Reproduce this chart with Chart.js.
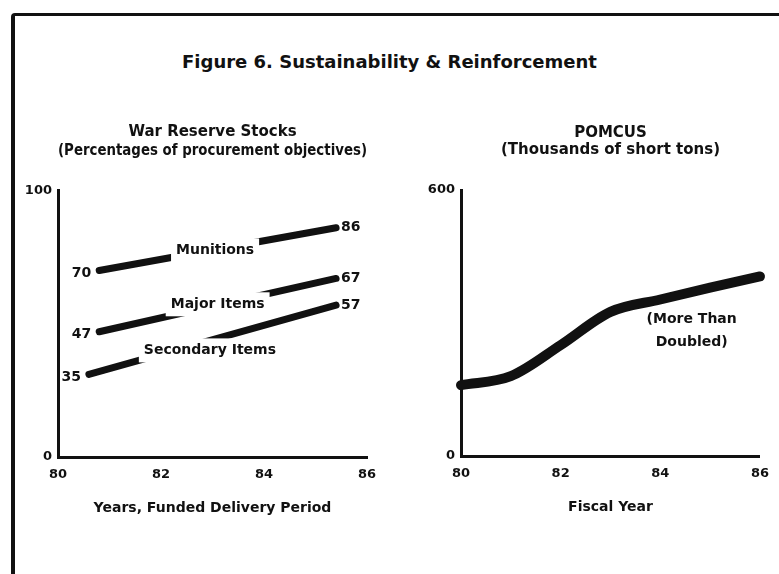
<!DOCTYPE html>
<html>
<head>
<meta charset="utf-8">
<script src="https://cdn.jsdelivr.net/npm/chart.js@4.4.1/dist/chart.umd.min.js"></script>
<style>
    html, body { margin: 0; padding: 0; background: #fff; }
    body { width: 779px; height: 574px; position: relative; overflow: hidden; font-family: "DejaVu Sans", sans-serif; }
    #frame { position: absolute; left: 11px; top: 13px; width: 820px; height: 620px; border-left: 4px solid #111; border-top: 3px solid #111; border-top-left-radius: 4px; }
    #mainTitle { position: absolute; left: 0; width: 779px; top: 51px; line-height: 22px; text-align: center; font-weight: bold; font-size: 18px; color: #111; }
    canvas { position: absolute; top: 0; }
    #stocksChart { left: 0; }
    #pomcusChart { left: 400px; }
</style>
</head>
<body>
<div id="frame"></div>
<div id="mainTitle">Figure 6. Sustainability &amp; Reinforcement</div>
<canvas id="stocksChart" width="400" height="574"></canvas>
<canvas id="pomcusChart" width="379" height="574"></canvas>
<script>
/* ---- War Reserve Stocks (% of procurement objectives) ---- */
const stockSeries    = ['Munitions', 'Major Items', 'Secondary Items'];
const stockStartYear = [80.8, 80.8, 80.6];
const stockEndYear   = [85.4, 85.4, 85.4];
const stockStartPct  = [70, 47, 31];
const stockEndPct    = [86, 67, 57];
const stockStartTag  = ['70', '47', '35'];
const stockEndTag    = ['86', '67', '57'];
const stockTicks     = [0, 100];

/* ---- POMCUS (thousands of short tons) ---- */
const fiscalYears = [80, 81, 82, 83, 84, 85, 86];
const pomcusTons  = [160, 180, 250, 325, 353, 380, 405];
const pomcusTicks = [0, 600];
const pomcusNote  = ['(More Than', 'Doubled)'];

const yearTicks = [80, 82, 84, 86];

const INK = '#111';
const FAMILY = "'DejaVu Sans', sans-serif";
const bold = (size, lineHeight = 1.2) => ({ family: FAMILY, size: size, weight: 'bold', lineHeight: lineHeight });

// where the series names sit (data units), drawn over the lines on a white patch
const stockNameAt = [[83.05, 77.5], [83.1, 57.3], [82.95, 40]];
const pomcusNoteAt = [84.63, 282];

function maskedText(ctx, text, x, y) {
    const w = ctx.measureText(text).width;
    ctx.fillStyle = '#fff';
    ctx.fillRect(x - w / 2 - 5, y - 12, w + 10, 24);
    ctx.fillStyle = INK;
    ctx.textAlign = 'center';
    ctx.fillText(text, x, y);
}

const stockLabels = {
    id: 'stockLabels',
    afterDatasetsDraw(chart) {
        const { ctx, scales: { x, y } } = chart;
        ctx.save();
        ctx.font = 'bold 14px ' + FAMILY;
        ctx.textBaseline = 'middle';
        stockSeries.forEach((name, i) => {
            const [nx, ny] = stockNameAt[i];
            maskedText(ctx, name, x.getPixelForValue(nx), y.getPixelForValue(ny));

            ctx.fillStyle = INK;
            ctx.textAlign = 'right';
            ctx.fillText(stockStartTag[i], x.getPixelForValue(stockStartYear[i]) - 8, y.getPixelForValue(stockStartPct[i]) + 3);
            ctx.textAlign = 'left';
            ctx.fillText(stockEndTag[i], x.getPixelForValue(stockEndYear[i]) + 5, y.getPixelForValue(stockEndPct[i]));
        });
        ctx.restore();
    }
};

const pomcusLabel = {
    id: 'pomcusLabel',
    afterDatasetsDraw(chart) {
        const { ctx, scales: { x, y } } = chart;
        const cx = x.getPixelForValue(pomcusNoteAt[0]);
        const cy = y.getPixelForValue(pomcusNoteAt[1]);
        ctx.save();
        ctx.font = 'bold 14px ' + FAMILY;
        ctx.textBaseline = 'middle';
        ctx.textAlign = 'center';
        ctx.fillStyle = INK;
        ctx.fillText(pomcusNote[0], cx, cy - 11.5);
        ctx.fillText(pomcusNote[1], cx, cy + 11.5);
        ctx.restore();
    }
};

function xAxis(title, height, titlePad) {
    return {
        type: 'linear',
        min: 80,
        max: 86,
        afterBuildTicks: s => { s.ticks = yearTicks.map(v => ({ value: v })); },
        afterFit: s => { s.height = height; },
        grid: { display: false, drawTicks: false },
        border: { color: INK, width: 3 },
        ticks: { color: INK, font: bold(13), padding: 10, maxRotation: 0, autoSkip: false },
        title: { display: true, text: title, color: INK, font: bold(14), padding: { top: 0, bottom: titlePad } }
    };
}

function yAxis(max, tickVals, width) {
    return {
        min: 0,
        max: max,
        afterBuildTicks: s => { s.ticks = tickVals.map(v => ({ value: v })); },
        afterFit: s => { s.width = width; },
        grid: { display: false, drawTicks: false },
        border: { color: INK, width: 3 },
        ticks: { color: INK, font: bold(13), padding: 6 }
    };
}

/* ================= LEFT: WAR RESERVE STOCKS ================= */
new Chart(document.getElementById('stocksChart'), {
    type: 'line',
    data: {
        datasets: stockSeries.map((name, i) => ({
            label: name,
            data: [
                { x: stockStartYear[i], y: stockStartPct[i] },
                { x: stockEndYear[i], y: stockEndPct[i] }
            ],
            borderColor: INK,
            borderWidth: 7,
            borderCapStyle: 'round',
            pointRadius: 0,
            clip: false
        }))
    },
    options: {
        responsive: false,
        animation: false,
        events: [],
        layout: { padding: { left: 0, right: 33, top: 0, bottom: 0 } },
        plugins: {
            legend: { display: false },
            tooltip: { enabled: false },
            title: {
                display: true,
                fullSize: false,
                text: ['War Reserve Stocks', '(Percentages of procurement objectives)'],
                color: INK,
                font: bold(15, 1.25),
                padding: { top: 123, bottom: 30 }
            }
        },
        scales: {
            x: xAxis('Years, Funded Delivery Period', 117, 57),
            y: yAxis(100, stockTicks, 58)
        }
    },
    plugins: [stockLabels]
});

/* ================= RIGHT: POMCUS ================= */
new Chart(document.getElementById('pomcusChart'), {
    type: 'line',
    data: {
        datasets: [{
            label: 'POMCUS',
            data: fiscalYears.map((yr, i) => ({ x: yr, y: pomcusTons[i] })),
            borderColor: INK,
            borderWidth: 10,
            borderCapStyle: 'round',
            borderJoinStyle: 'round',
            cubicInterpolationMode: 'monotone',
            pointRadius: 0,
            clip: false
        }]
    },
    options: {
        responsive: false,
        animation: false,
        events: [],
        layout: { padding: { left: 0, right: 12, top: 0, bottom: 0 } },
        plugins: {
            legend: { display: false },
            tooltip: { enabled: false },
            title: {
                display: true,
                fullSize: false,
                text: ['POMCUS', '(Thousands of short tons)'],
                color: INK,
                font: bold(15, 1.1),
                padding: { top: 125, bottom: 32 }
            }
        },
        scales: {
            x: xAxis('Fiscal Year', 118, 58),
            y: yAxis(600, pomcusTicks, 61)
        }
    },
    plugins: [pomcusLabel]
});
</script>
</body>
</html>
